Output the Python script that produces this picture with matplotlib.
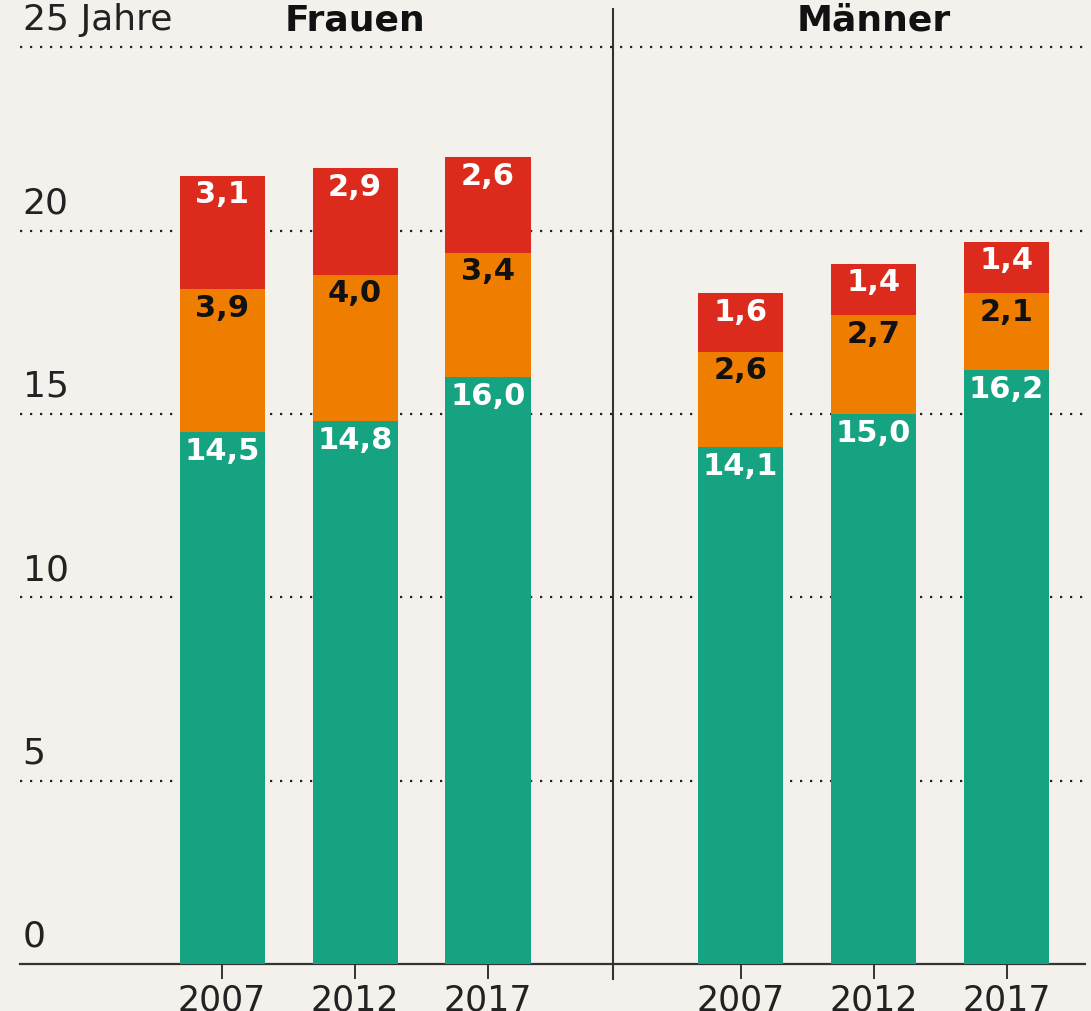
import numpy as np
import matplotlib.pyplot as plt

# data (years of remaining life expectancy at 65)
years = ['2007', '2012', '2017']
groups = ['Frauen', 'Männer']
green_f = [14.5, 14.8, 16.0]
orange_f = [3.9, 4.0, 3.4]
red_f = [3.1, 2.9, 2.6]
green_m = [14.1, 15.0, 16.2]
orange_m = [2.6, 2.7, 2.1]
red_m = [1.6, 1.4, 1.4]
yticks = [0, 5, 10, 15, 20, 25]

GREEN = '#16a381'
ORANGE = '#ef7d00'
RED = '#dc2a1d'
BG = '#f4f1ec'

fig = plt.figure(figsize=(10.91, 10.12), dpi=100, facecolor=BG)
ax = fig.add_axes([20 / 1091, 47 / 1012, 1065 / 1091, 955 / 1012])
ax.set_facecolor(BG)

x_f = np.arange(3)
x_m = np.arange(3) + 3.9
width = 0.64

ax.set_xlim(-1.52, 6.49)
ax.set_ylim(0, 26.04)

# dotted grid lines behind the bars
for v in yticks[1:]:
    ax.axhline(v, color='#222222', lw=1.6, ls=(0, (1, 3.5)), zorder=0)

def stack(xs, g, o, r):
    g, o, r = np.array(g), np.array(o), np.array(r)
    ax.bar(xs, g, width, color=GREEN, zorder=2)
    ax.bar(xs, o, width, bottom=g, color=ORANGE, zorder=2)
    ax.bar(xs, r, width, bottom=g + o, color=RED, zorder=2)
    for xi, gi, oi, ri in zip(xs, g, o, r):
        kw = dict(ha='center', va='top', fontsize=22, fontweight='bold', zorder=3)
        ax.text(xi, gi - 0.1, f'{gi:.1f}'.replace('.', ','), color='white', **kw)
        ax.text(xi, gi + oi - 0.1, f'{oi:.1f}'.replace('.', ','), color='#111111', **kw)
        ax.text(xi, gi + oi + ri - 0.1, f'{ri:.1f}'.replace('.', ','), color='white', **kw)

stack(x_f, green_f, orange_f, red_f)
stack(x_m, green_m, orange_m, red_m)

# y labels sit above the grid lines at the left
for v in yticks:
    lab = '25 Jahre' if v == 25 else str(v)
    ax.text(-1.5, v + 0.3, lab, ha='left', va='bottom', fontsize=26, color='#222222')

ax.text(x_f[1], 25.3, groups[0], ha='center', va='bottom', fontsize=26, fontweight='bold', color='#111111')
ax.text(x_m[1], 25.3, groups[1], ha='center', va='bottom', fontsize=26, fontweight='bold', color='#111111')

# divider between the two groups
ax.plot([2.94, 2.94], [-0.4, 26.04], color='#333333', lw=1.5, clip_on=False, zorder=1)

for s in ['top', 'right', 'left']:
    ax.spines[s].set_visible(False)
ax.spines['bottom'].set_color('#333333')
ax.spines['bottom'].set_linewidth(1.6)
ax.spines['bottom'].set_zorder(1)
ax.set_yticks([])
ax.set_xticks(list(x_f) + list(x_m))
ax.set_xticklabels(years + years, fontsize=25, color='#222222')
ax.tick_params(axis='x', length=11, width=1.4, color='#333333', pad=2)

fig.savefig('out.png', dpi=100, facecolor=BG)
